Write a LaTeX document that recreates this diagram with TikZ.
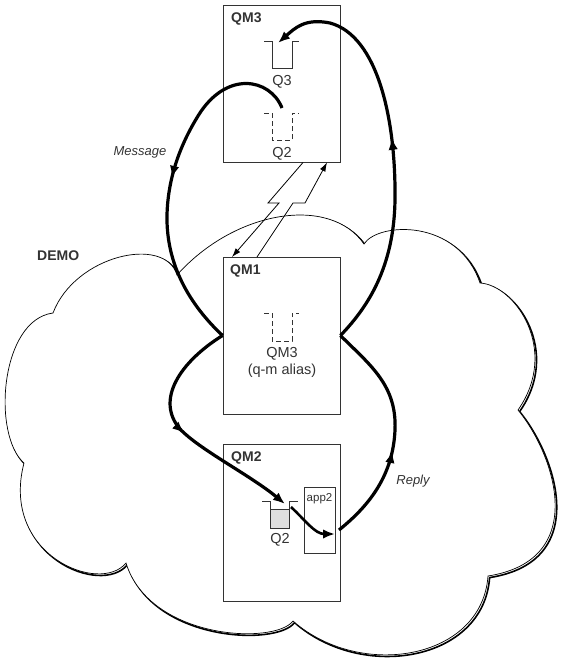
\documentclass[tikz,border=0pt]{standalone}
\usepackage{fontspec}
\setmainfont{Liberation Sans}
\usetikzlibrary{arrows.meta,decorations.markings}
\definecolor{ink}{HTML}{333333}
\definecolor{qfill}{HTML}{E0E0E0}
\begin{document}
\begin{tikzpicture}[x=1pt,y=-1pt,
  qmbox/.style={draw=ink, line width=0.9pt, fill=white, minimum width=117pt, minimum height=157pt, inner sep=0pt},
  appbox/.style={draw=ink, line width=0.9pt, minimum width=31pt, minimum height=66pt, inner sep=0pt},
  qmlabel/.style={anchor=base west, font=\fontsize{14}{16}\selectfont\bfseries, text=ink, inner sep=0pt},
  qlabel/.style={anchor=base, font=\fontsize{14.5}{17}\selectfont, text=ink, inner sep=0pt},
  smalllabel/.style={anchor=base, font=\fontsize{11.5}{13}\selectfont, text=ink, inner sep=0pt},
  flowlabel/.style={anchor=base, font=\fontsize{13}{15}\selectfont\itshape, text=ink, inner sep=0pt},
  queue/.style={draw=ink, line width=0.9pt},
  dqueue/.style={queue, dash pattern=on 5pt off 3pt},
  flow/.style={line width=3.2pt, -{Latex[length=12pt,width=9.5pt]}},
  flowmid/.style={line width=3.2pt, decoration={markings, mark=at position #1 with {\arrow{Latex[length=12pt,width=9.5pt]}}}, postaction={decorate}},
  link/.style={line width=0.8pt, -{Latex[length=9pt,width=6pt]}},
]
\useasboundingbox (0,0) rectangle (561,664);
\def\cloudpath{(177,275) .. controls (235,210) and (330,195) .. (364,244)
 .. controls (378,222) and (458,218) .. (480,283)
 .. controls (515,285) and (560,350) .. (518,410)
 .. controls (555,455) and (590,560) .. (488,576)
 .. controls (482,660) and (360,680) .. (293,621)
 .. controls (275,645) and (150,640) .. (126,563)
 .. controls (100,595) and (0,555) .. (24,463)
 .. controls (-8,435) and (0,320) .. (53,313)
 .. controls (75,255) and (165,235) .. (177,275) -- cycle}
% cloud with shadow
\draw[line width=1.6pt, fill=white, shift={(1.6,1.6)}] \cloudpath;
\draw[line width=0.7pt, fill=white] \cloudpath;
\node[qmlabel] (demo) at (37,260) {DEMO};

% queue manager boxes
\node[qmbox] (qm3) at (281.5,83.5) {};
\node[qmbox] (qm1) at (281.5,335.5) {};
\node[qmbox] (qm2) at (281.5,523) {};
\node[appbox] (app2) at (319.5,520) {};
\node[qmlabel] (l3) at (231,22) {QM3};
\node[qmlabel] (l1) at (230,274) {QM1};
\node[qmlabel] (l2) at (231,461) {QM2};

% queues
\draw[queue] (264,41) -- (272,41) -- (272,68) -- (292,68) -- (292,41) -- (299,41);
\node[qlabel] (q3l) at (282,85) {Q3};
\draw[dqueue] (264,113) -- (272,113) -- (272,140) -- (292,140) -- (292,113) -- (299,113);
\node[qlabel] (q2al) at (282,157) {Q2};
\draw[dqueue] (264,313) -- (272,313) -- (272,341) -- (292,341) -- (292,313) -- (299,313);
\node[qlabel] (qm3l) at (282,357) {QM3};
\node[qlabel] (alias) at (282,374) {(q-m alias)};
\fill[qfill] (270,509) rectangle (289,528);
\draw[queue] (270,509) -- (289,509);
\draw[queue] (262,501) -- (270,501) -- (270,528) -- (289,528) -- (289,501) -- (298,501);
\node[qlabel] (q2bl) at (280,543) {Q2};
\node[smalllabel] (app2l) at (319.5,501) {app2};

% channel (lightning) links
\coordinate (la) at (303,162.5);
\coordinate (lb) at (232,257);
\coordinate (ra) at (257,257);
\coordinate (rb) at (327,162.5);
\draw[link] (la) -- (268,203) -- (279,203) -- (lb);
\draw[link] (ra) -- (293,203) -- (305,203) -- (rb);

% flows
\coordinate (q2top) at (282,108);
\coordinate (q3in) at (278,43);
\coordinate (q2in) at (285,504);
\coordinate (q2out) at (291,507);
\coordinate (appin) at (335,534);
\coordinate (appout) at (339,530);

\draw[flowmid=0.5] (q2top) .. controls (270,78) and (226,70) .. (198,116)
  .. controls (182,142) and (168,175) .. (167,215)
  .. controls (166,265) and (190,305) .. (qm1.west);
\draw[flow, flowmid=0.5] (qm1.west) .. controls (180,362) and (155,400) .. (180,429)
  .. controls (200,450) and (250,475) .. (q2in);
\draw[flow, line width=2.6pt] (q2out) .. controls (305,520) and (315,534) .. (appin);
\draw[flowmid=0.42] (appout) .. controls (370,505) and (393,475) .. (395,430)
  .. controls (397,385) and (370,365) .. (qm1.east);
\draw[flow, flowmid=0.52] (qm1.east) .. controls (372,303) and (394,262) .. (395,200)
  .. controls (396,120) and (378,36) .. (330,23)
  .. controls (305,18) and (295,28) .. (q3in);

\node[flowlabel] (msg) at (140,155) {Message};
\node[flowlabel] (rep) at (413,484) {Reply};
\end{tikzpicture}
\end{document}
